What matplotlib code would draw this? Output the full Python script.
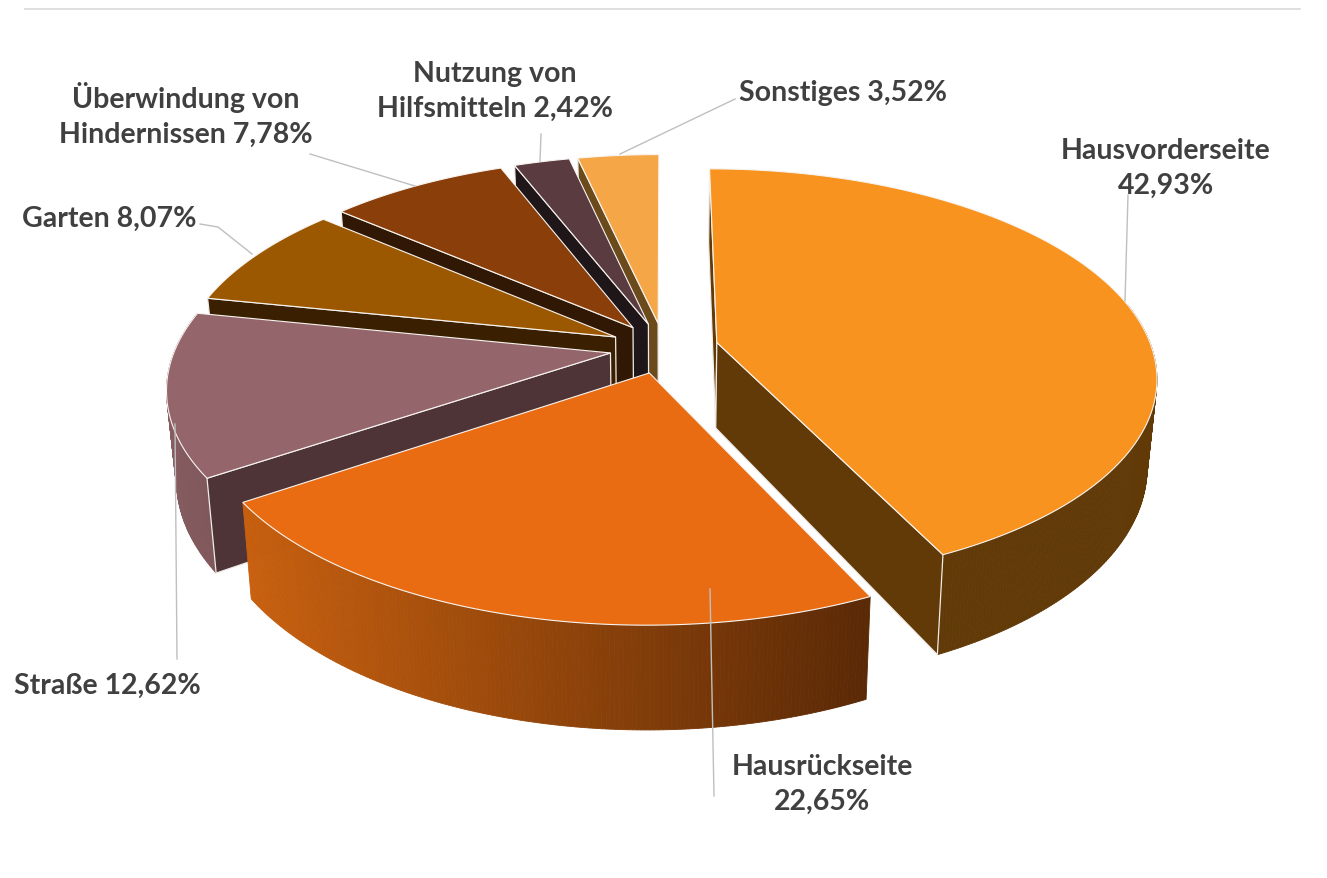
import numpy as np
import matplotlib
matplotlib.use("Agg")
import matplotlib.pyplot as plt
from matplotlib.colors import to_rgb
from matplotlib.patches import Polygon

names = ["Hausvorderseite\n", "Hausrückseite\n", "Straße ", "Garten ",
         "Überwindung von\nHindernissen ", "Nutzung von\nHilfsmitteln ", "Sonstiges "]
values = [42.93, 22.65, 12.62, 8.07, 7.78, 2.42, 3.52]

top_colors = ["#F7931E", "#E96C13", "#94656A", "#9C5800", "#8A3E0A", "#5A3B40", "#F5A748"]
face_colors = ["#613A08", "#5A2A06", "#4E3437", "#3A2000", "#301804", "#1E1619", "#6B4A1C"]
rim_left = ["#613A08", "#C8600F", "#855C60", "#3A2000", "#301804", "#1E1619", "#6B4A1C"]
rim_right = ["#613A08", "#5A2906", "#7F575A", "#3A2000", "#301804", "#1E1619", "#6B4A1C"]

# label anchors and leader lines in image pixels
label_pos = [(1166, 168), (822, 784), (107, 686), (109, 219), (186, 115), (495, 91), (843, 93)]
leaders = [
    [(1128, 196), (1125, 302)],
    [(714, 797), (710, 590)],
    [(177, 660), (175, 425)],
    [(200, 225), (218, 228), (252, 255)],
    [(310, 155), (415, 187)],
    [(541, 135), (540, 162)],
    [(735, 100), (620, 155)],
]

CX, CY = 664, 349
A, B = 435, 203
K = 0.16       # perspective strength
H = 86         # pie thickness
EXPLODE = 0.125


def project(u, v, drop=0.0):
    w = 1 - K * v
    # bottom edge pulls in a little towards the middle
    scale = 1 - 0.02 * drop
    return CX + A * u / w * scale, CY + (B * v + H * drop) / w


fig = plt.figure(figsize=(13.27, 8.79), dpi=100)
ax = fig.add_axes([0, 0, 1, 1])
ax.set_xlim(0, 1327)
ax.set_ylim(879, 0)
ax.axis("off")

ax.plot([25, 1300], [10, 10], color="#D9D9D9", lw=1.2)

total = sum(values)
edges = np.concatenate([[0], np.cumsum(values)]) / total * 2 * np.pi

slices = []
for i in range(len(values)):
    t0, t1 = edges[i], edges[i + 1]
    mid = (t0 + t1) / 2
    slices.append((EXPLODE * np.sin(mid), -EXPLODE * np.cos(mid), t0, t1, i))

# back slices first
for ou, ov, t0, t1, i in sorted(slices, key=lambda s: s[1]):
    th = np.linspace(t0, t1, max(int((t1 - t0) * 120), 6))
    u = ou + np.sin(th)
    v = ov - np.cos(th)

    # outer rim, split in strips for the colour fade (front part only)
    c_l, c_r = np.array(to_rgb(rim_left[i])), np.array(to_rgb(rim_right[i]))
    xs_top, ys_top = project(u, v)
    xs_bot, ys_bot = project(u, v, 1.0)
    xmin, xmax = xs_top.min(), xs_top.max()
    for j in range(len(th) - 1):
        if np.cos(th[j]) > 0.2:
            continue
        f = (xs_top[j] - xmin) / max(xmax - xmin, 1)
        ax.add_patch(Polygon(
            [(xs_top[j], ys_top[j]), (xs_top[j + 1], ys_top[j + 1]),
             (xs_bot[j + 1], ys_bot[j + 1]), (xs_bot[j], ys_bot[j])],
            closed=True, fc=c_l + (c_r - c_l) * f, ec=c_l + (c_r - c_l) * f, lw=0.6))

    # radial cut faces, only the ones that look towards the viewer
    for t, show in ((t0, -np.sin(t0) > -1e-6), (t1, np.sin(t1) > 1e-6)):
        if not show:
            continue
        ru, rv = ou + np.sin(t), ov - np.cos(t)
        p = [project(ou, ov), project(ru, rv), project(ru, rv, 1.0), project(ou, ov, 1.0)]
        ax.add_patch(Polygon(p, closed=True, fc=face_colors[i], ec="#F0ECE8", lw=0.9))

    # top of the slice
    px, py = project(np.r_[ou, u], np.r_[ov, v])
    ax.add_patch(Polygon(np.c_[px, py], closed=True, fc=top_colors[i], ec="#F8F4F0", lw=0.8))

for line in leaders:
    xy = np.array(line)
    ax.plot(xy[:, 0], xy[:, 1], color="#BFBFBF", lw=1.0, zorder=5)

for name, val, (x, y) in zip(names, values, label_pos):
    txt = name + f"{val:.2f}".replace(".", ",") + "%"
    ax.text(x, y, txt, ha="center", va="center", family=["Lato", "DejaVu Sans"],
            fontweight="bold", fontsize=20.5, color="#404040", linespacing=1.42, zorder=6)

fig.savefig("out.png", dpi=100)
